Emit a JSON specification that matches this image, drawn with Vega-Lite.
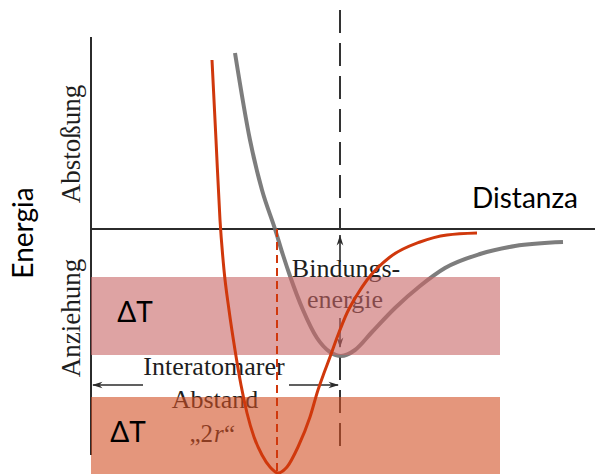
{
  "$schema": "https://vega.github.io/schema/vega-lite/v6.json",
  "width": 595,
  "height": 474,
  "padding": 0,
  "autosize": {"type": "none"},
  "background": "white",
  "config": {"view": {"stroke": null}},
  "datasets": {
    "axes": [
      {"r": 0, "E": 192, "r2": 0, "E2": -226},
      {"r": 0, "E": 0, "r2": 504, "E2": 0}
    ],
    "guide_dashed": [
      {"r": 249, "E": 219, "r2": 249, "E2": 0},
      {"r": 249, "E": -128, "r2": 249, "E2": -219}
    ],
    "guide_solid": [
      {"r": 249, "E": -6, "r2": 249, "E2": -33},
      {"r": 249, "E": -89, "r2": 249, "E2": -118},
      {"r": 2, "E": -156, "r2": 52, "E2": -156},
      {"r": 198, "E": -156, "r2": 247, "E2": -156}
    ],
    "arrowheads": [
      {"r": 249, "E": -6, "dir": 270},
      {"r": 249, "E": -119, "dir": 90},
      {"r": 1, "E": -156, "dir": 180},
      {"r": 248, "E": -156, "dir": 0}
    ],
    "potential": [
      {"r": 144, "E": 176}, {"r": 159, "E": 89}, {"r": 171, "E": 39},
      {"r": 184, "E": 0}, {"r": 192, "E": -26}, {"r": 199, "E": -47},
      {"r": 212, "E": -81}, {"r": 226, "E": -109}, {"r": 239, "E": -123},
      {"r": 250, "E": -127}, {"r": 264, "E": -121}, {"r": 281, "E": -103},
      {"r": 304, "E": -79}, {"r": 329, "E": -57}, {"r": 354, "E": -39},
      {"r": 389, "E": -25}, {"r": 424, "E": -17}, {"r": 472, "E": -13}
    ],
    "deep_well": [
      {"r": 121, "E": 169}, {"r": 125, "E": 89}, {"r": 129, "E": 9},
      {"r": 133, "E": -41}, {"r": 138, "E": -81}, {"r": 144, "E": -121},
      {"r": 150, "E": -156}, {"r": 156, "E": -184}, {"r": 163, "E": -208},
      {"r": 171, "E": -226}, {"r": 179, "E": -238}, {"r": 187, "E": -244},
      {"r": 196, "E": -238}, {"r": 207, "E": -218}, {"r": 219, "E": -188},
      {"r": 227, "E": -161}, {"r": 233, "E": -144}, {"r": 239, "E": -128},
      {"r": 247, "E": -106}, {"r": 256, "E": -84}, {"r": 266, "E": -66},
      {"r": 276, "E": -51}, {"r": 299, "E": -28}, {"r": 329, "E": -13},
      {"r": 356, "E": -6}, {"r": 386, "E": -4}
    ],
    "well_minimum": [
      {"r": 186, "E": 0, "r2": 186, "E2": -243}
    ],
    "bands": [
      {"r": 0, "r2": 409, "E": -48, "E2": -126, "band": "upper"},
      {"r": 0, "r2": 409, "E": -168, "E2": -245, "band": "lower"}
    ],
    "serif_labels": [
      {"r": 255, "E": -48, "label": "Bindungs-"},
      {"r": 254, "E": -79, "label": "energie"},
      {"r": 123, "E": -146, "label": "Interatomarer"},
      {"r": 124, "E": -179, "label": "Abstand"}
    ],
    "serif_rotated": [
      {"r": -11, "E": 85, "label": "Abstoßung"},
      {"r": -11, "E": -89, "label": "Anziehung"}
    ],
    "quote_open": [
      {"r": 122, "E": -213, "label": "„2"}
    ],
    "quote_close": [
      {"r": 133, "E": -213, "label": "“"}
    ],
    "quote_italic": [
      {"r": 123, "E": -213, "label": "r"}
    ],
    "delta_labels": [
      {"r": 44, "E": -93, "label": "ΔT"},
      {"r": 37, "E": -213, "label": "ΔT"}
    ],
    "axis_titles": [
      {"r": 381, "E": 21, "label": "Distanza"}
    ],
    "axis_titles_rotated": [
      {"r": -58, "E": -4, "label": "Energia"}
    ]
  },
  "encoding": {
    "x": {"field": "r", "type": "quantitative", "scale": {"domain": [-91, 504], "nice": false, "zero": false}, "axis": null},
    "y": {"field": "E", "type": "quantitative", "scale": {"domain": [-245, 229], "nice": false, "zero": false}, "axis": null}
  },
  "layer": [
    {
      "data": {"name": "axes"},
      "mark": {"type": "rule", "color": "#2b2b2b", "strokeWidth": 2},
      "encoding": {"x2": {"field": "r2"}, "y2": {"field": "E2"}}
    },
    {
      "data": {"name": "guide_dashed"},
      "mark": {"type": "rule", "color": "#333333", "strokeWidth": 2, "strokeDash": [23, 10]},
      "encoding": {"x2": {"field": "r2"}, "y2": {"field": "E2"}}
    },
    {
      "data": {"name": "guide_solid"},
      "mark": {"type": "rule", "color": "#2b2b2b", "strokeWidth": 1.6},
      "encoding": {"x2": {"field": "r2"}, "y2": {"field": "E2"}}
    },
    {
      "data": {"name": "arrowheads"},
      "mark": {"type": "point", "shape": "M0,0L-1,-0.32L-0.7,0L-1,0.32Z", "filled": true, "color": "#2b2b2b", "opacity": 1, "size": 440},
      "encoding": {"angle": {"field": "dir", "type": "quantitative", "scale": null}}
    },
    {
      "data": {"name": "potential"},
      "mark": {"type": "line", "interpolate": "monotone", "color": "#6f6f6f", "strokeWidth": 4, "opacity": 0.9}
    },
    {
      "data": {"name": "serif_labels"},
      "mark": {"type": "text", "font": "Liberation Serif", "fontSize": 26, "align": "center", "baseline": "alphabetic", "color": "#1e1e1e"},
      "encoding": {"text": {"field": "label"}}
    },
    {
      "data": {"name": "serif_rotated"},
      "mark": {"type": "text", "font": "Liberation Serif", "fontSize": 27, "align": "center", "baseline": "alphabetic", "angle": 270, "color": "#1e1e1e"},
      "encoding": {"text": {"field": "label"}}
    },
    {
      "data": {"name": "quote_open"},
      "mark": {"type": "text", "font": "Liberation Serif", "fontSize": 25, "align": "right", "baseline": "alphabetic", "color": "#1e1e1e"},
      "encoding": {"text": {"field": "label"}}
    },
    {
      "data": {"name": "quote_italic"},
      "mark": {"type": "text", "font": "Liberation Serif", "fontSize": 25, "fontStyle": "italic", "align": "left", "baseline": "alphabetic", "color": "#1e1e1e"},
      "encoding": {"text": {"field": "label"}}
    },
    {
      "data": {"name": "quote_close"},
      "mark": {"type": "text", "font": "Liberation Serif", "fontSize": 25, "align": "left", "baseline": "alphabetic", "color": "#1e1e1e"},
      "encoding": {"text": {"field": "label"}}
    },
    {
      "data": {"name": "bands"},
      "mark": {"type": "rect", "opacity": 0.6},
      "encoding": {
        "x2": {"field": "r2"},
        "y2": {"field": "E2"},
        "color": {"field": "band", "type": "nominal", "scale": {"domain": ["upper", "lower"], "range": ["#c86666", "#d25025"]}, "legend": null}
      }
    },
    {
      "data": {"name": "well_minimum"},
      "mark": {"type": "rule", "color": "#d0380c", "strokeWidth": 2, "strokeDash": [8, 5]},
      "encoding": {"x2": {"field": "r2"}, "y2": {"field": "E2"}}
    },
    {
      "data": {"name": "deep_well"},
      "mark": {"type": "line", "interpolate": "monotone", "color": "#d0380c", "strokeWidth": 3}
    },
    {
      "data": {"name": "delta_labels"},
      "mark": {"type": "text", "font": "Lato", "fontSize": 28, "align": "center", "baseline": "alphabetic", "color": "#000000"},
      "encoding": {"text": {"field": "label"}}
    },
    {
      "data": {"name": "axis_titles"},
      "mark": {"type": "text", "font": "Lato", "fontSize": 28, "align": "left", "baseline": "alphabetic", "color": "#000000"},
      "encoding": {"text": {"field": "label"}}
    },
    {
      "data": {"name": "axis_titles_rotated"},
      "mark": {"type": "text", "font": "Lato", "fontSize": 28, "align": "center", "baseline": "alphabetic", "angle": 270, "color": "#000000"},
      "encoding": {"text": {"field": "label"}}
    }
  ]
}
